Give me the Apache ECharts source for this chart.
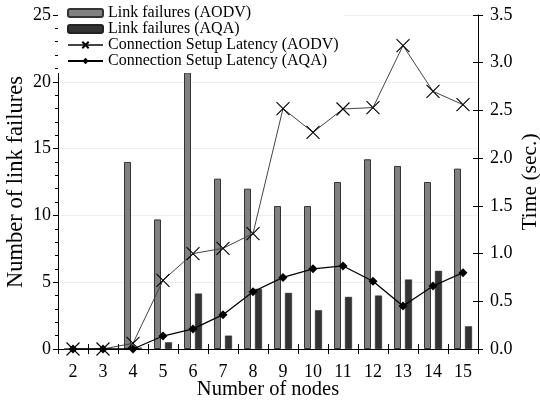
<!DOCTYPE html>
<html><head><meta charset="utf-8">
<script src="https://cdn.jsdelivr.net/npm/echarts@6/dist/echarts.min.js"></script>
<style>html,body{margin:0;padding:0;background:#fff}#c{width:540px;height:407px}</style>
</head><body><div id="c"></div>
<script>
const categories = ['2','3','4','5','6','7','8','9','10','11','12','13','14','15'];
const linkFailAODV = [0, 0, 14, 9.7, 20.7, 12.75, 12, 10.7, 10.7, 12.5, 14.2, 13.7, 12.5, 13.5];
const linkFailAQA  = [0, 0, 0.1, 0.5, 4.15, 1.0, 4.5, 4.2, 2.9, 3.9, 4.0, 5.2, 5.85, 1.7];
const latencyAODV  = [0, 0, 0.06, 0.72, 1.0, 1.055, 1.21, 2.52, 2.27, 2.515, 2.53, 3.18, 2.70, 2.56];
const latencyAQA   = [0, 0, 0, 0.136, 0.21, 0.36, 0.6, 0.75, 0.84, 0.87, 0.71, 0.45, 0.66, 0.80];
const names = ['Link failures (AODV)','Link failures (AQA)','Connection Setup Latency (AODV)','Connection Setup Latency (AQA)'];

const FONT = 'Liberation Serif';
const chart = echarts.init(document.getElementById('c'));
chart.setOption({
  animation: false,
  backgroundColor: '#fff',
  textStyle: {fontFamily: FONT, color: '#000'},
  grid: {left: 58, right: 62, top: 15, bottom: 58, containLabel: false, outerBoundsMode: 'none'},
  legend: {
    orient: 'vertical', left: 58, top: 0,
    padding: [5, 5, 4, 9],
    backgroundColor: '#fff',
    itemWidth: 35, itemHeight: 8, itemGap: 0,
    textStyle: {fontFamily: FONT, fontSize: 16, color: '#000', lineHeight: 16},
    data: names
  },
  xAxis: [{
    type: 'category', data: categories, position: 'bottom',
    name: 'Number of nodes', nameLocation: 'middle', nameGap: 30, nameMoveOverlap: false,
    nameTextStyle: {fontFamily: FONT, fontSize: 20.5, color: '#000'},
    axisLine: {onZero: false, lineStyle: {color: '#000', width: 1}},
    axisTick: {show: true, length: 5, lineStyle: {color: '#000'}},
    axisLabel: {fontFamily: FONT, fontSize: 18, color: '#000', margin: 14},
    splitLine: {show: false}
  }, {
    type: 'category', data: categories, position: 'bottom',
    axisLine: {show: false, onZero: false},
    axisTick: {show: true, inside: true, length: 5, lineStyle: {color: '#000'}},
    axisLabel: {show: false}, splitLine: {show: false}
  }],
  yAxis: [{
    type: 'value', min: 0, max: 25, interval: 5, position: 'left',
    name: 'Number of link failures', nameLocation: 'middle', nameGap: 30, nameRotate: 90,
    nameMoveOverlap: false,
    nameTextStyle: {fontFamily: FONT, fontSize: 22.5, color: '#000'},
    axisLine: {show: true, lineStyle: {color: '#000'}},
    axisTick: {show: true, length: 5, lineStyle: {color: '#000'}},
    minorTick: {show: true, splitNumber: 5, length: 3, lineStyle: {color: '#000'}},
    axisLabel: {fontFamily: FONT, fontSize: 18, color: '#000', margin: 7},
    splitLine: {show: true, lineStyle: {color: '#eeeeee', width: 1}}
  }, {
    type: 'value', min: 0, max: 3.5, interval: 0.5, position: 'right',
    name: 'Time (sec.)', nameLocation: 'middle', nameGap: 41, nameRotate: 90,
    nameMoveOverlap: false,
    nameTextStyle: {fontFamily: FONT, fontSize: 21.5, color: '#000'},
    axisLine: {show: true, lineStyle: {color: '#000'}},
    axisTick: {show: true, length: 5, lineStyle: {color: '#000'}},
    axisLabel: {fontFamily: FONT, fontSize: 18, color: '#000', margin: 12,
      formatter: v => v.toFixed(1)},
    splitLine: {show: false}
  }, {
    type: 'value', min: 0, max: 3.5, interval: 0.5, position: 'right',
    axisLine: {show: false},
    axisTick: {show: true, inside: true, length: 5, lineStyle: {color: '#000'}},
    axisLabel: {show: false}, splitLine: {show: false}
  }],
  series: [{
    name: names[0], type: 'bar', xAxisIndex: 0, yAxisIndex: 0,
    data: linkFailAODV, barWidth: 7, barGap: '57%',
    itemStyle: {color: '#808080', borderColor: '#333', borderWidth: 1}
  }, {
    name: names[1], type: 'bar', xAxisIndex: 0, yAxisIndex: 0,
    data: linkFailAQA, barWidth: 7, barGap: '57%',
    itemStyle: {color: '#333333', borderColor: '#222', borderWidth: 0.5}
  }, {
    name: names[2], type: 'line', xAxisIndex: 0, yAxisIndex: 1,
    data: latencyAODV, z: 5,
    symbol: 'path://M0,0L10,10M10,0L0,10', symbolSize: 13,
    lineStyle: {color: '#444', width: 1},
    itemStyle: {color: '#000', borderColor: '#000', borderWidth: 1.1}
  }, {
    name: names[3], type: 'line', xAxisIndex: 0, yAxisIndex: 1,
    data: latencyAQA, z: 6,
    symbol: 'diamond', symbolSize: 9,
    lineStyle: {color: '#000', width: 1.3},
    itemStyle: {color: '#000'}
  }]
});
</script></body></html>
